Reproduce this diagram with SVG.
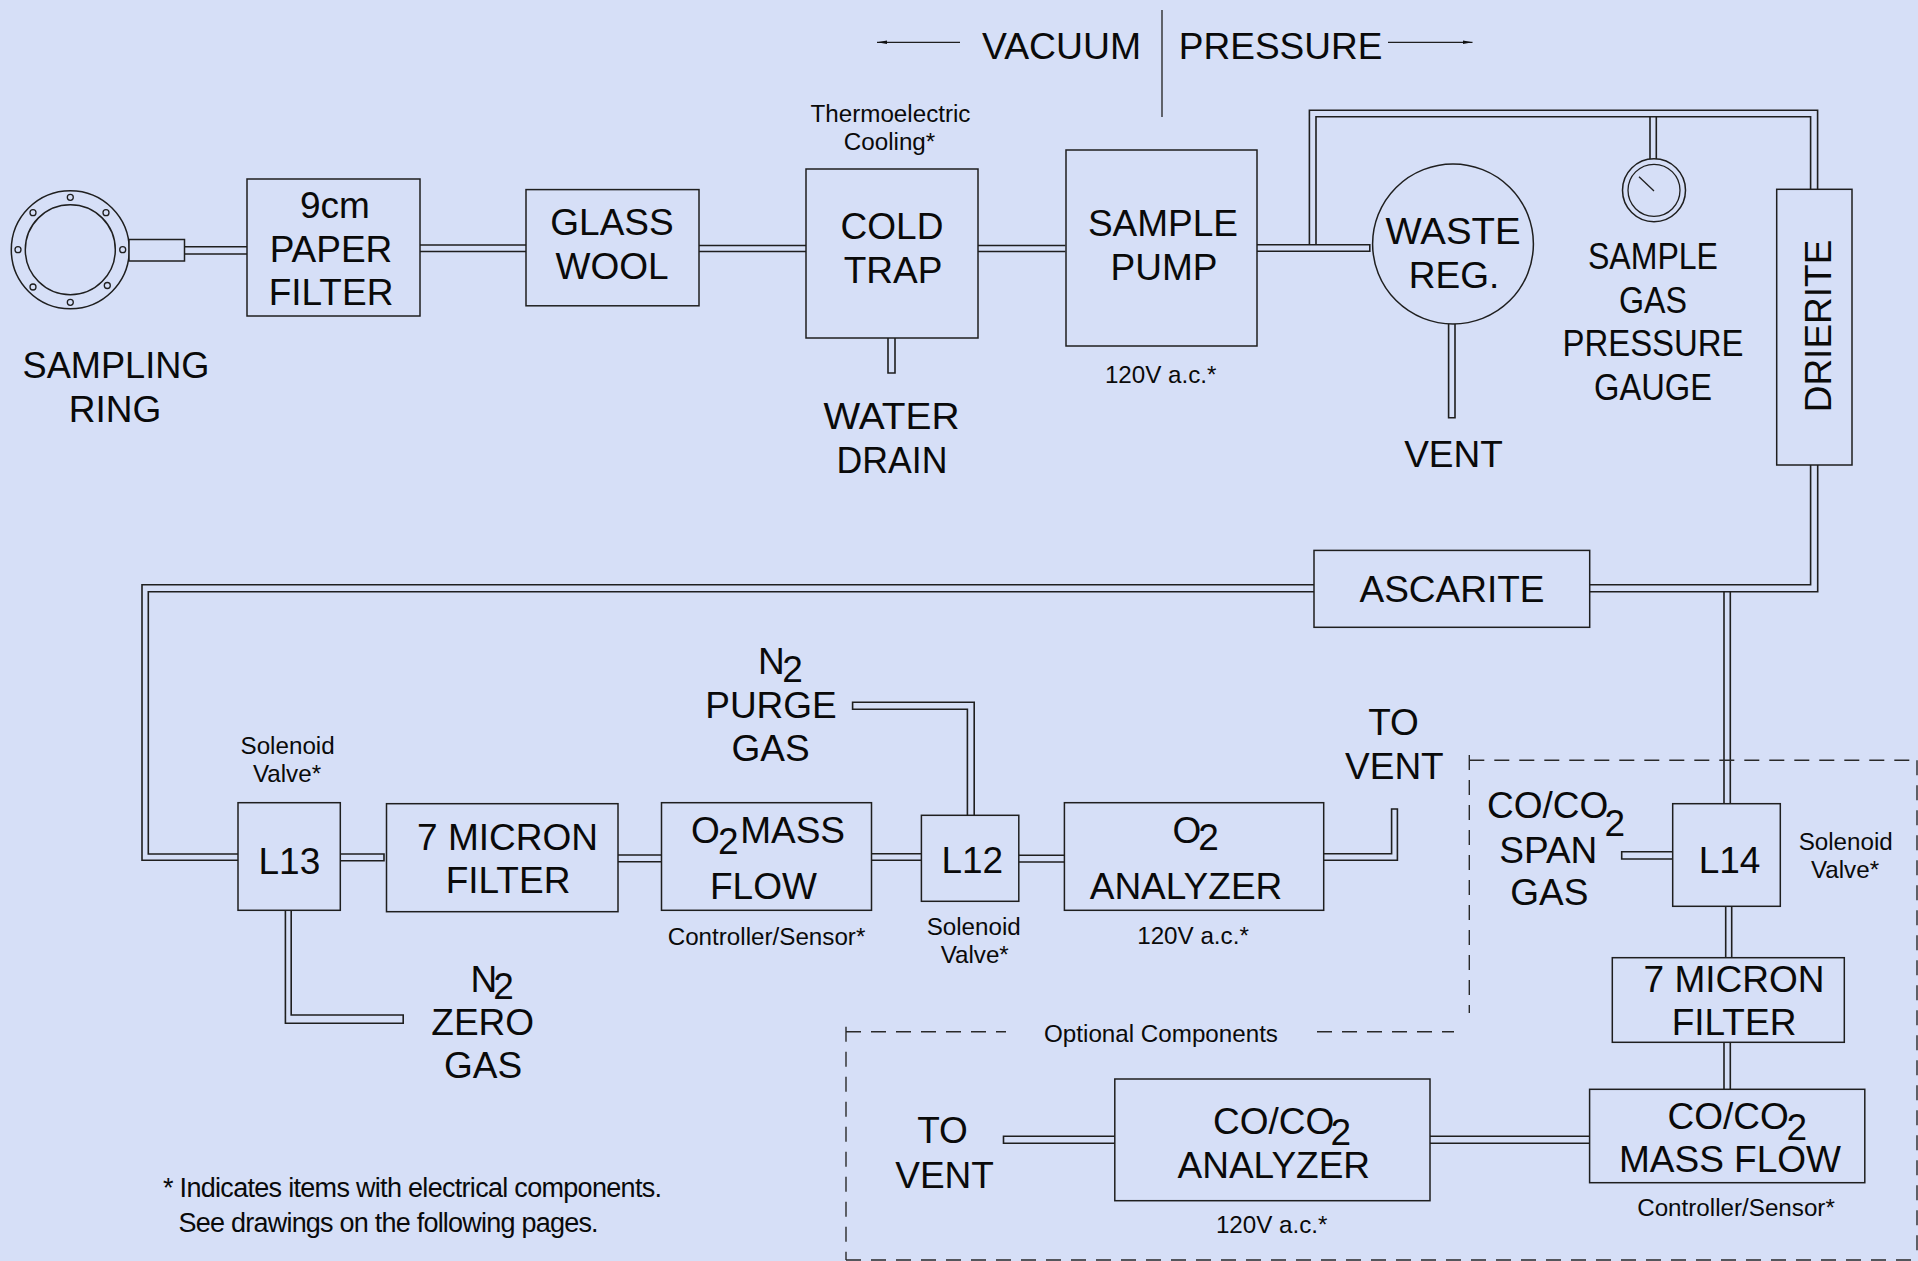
<svg xmlns="http://www.w3.org/2000/svg" width="1918" height="1261" viewBox="0 0 1918 1261">
<style>
text{font-family:"Liberation Sans",Arial,sans-serif;fill:#0a0a0a}
.l{font-size:37px;text-anchor:middle}
.ls{font-size:37px}
.s{font-size:24.2px;text-anchor:middle}
.n{font-size:27px}
.b{fill:#d6dff7;stroke:#1f1f1f;stroke-width:1.5}
.p{fill:none;stroke:#1f1f1f;stroke-width:1.6}
.t{fill:none;stroke:#1f1f1f;stroke-width:1.3}
.d{fill:none;stroke:#2a2a2a;stroke-width:1.4;stroke-dasharray:15 10}
</style>
<defs><marker id="ah" markerWidth="11" markerHeight="6" refX="10" refY="2.5" orient="auto" markerUnits="userSpaceOnUse"><path d="M0 0.7L10 2.5L0 4.3z" fill="#111"/></marker></defs>
<rect width="1918" height="1261" fill="#d6dff7"/>
<g id="connectors">
<path class="p" d="M185 246.7H247M185 254H247"/>
<path class="p" d="M420 245H526M420 251.5H526"/>
<path class="p" d="M699 245.5H806M699 251.5H806"/>
<path class="p" d="M978 245.5H1065.4M978 251.5H1065.4"/>
<path class="p" d="M1256.7 244.7H1369.8V251.3H1256.7"/>
<path class="p" d="M1309.4 244.7V110.3H1817.6V189.3M1316 244.7V116.7H1810.6V189.3"/>
<path class="p" d="M1650 116.7V159M1656.3 116.7V159"/>
<path class="p" d="M888 338V373H895V338"/>
<path class="p" d="M1448.6 324V417.7H1455V324"/>
<path class="p" d="M1810.6 465V584.7H1589.7M1817.7 465V591.7H1589.7"/>
<path class="p" d="M1724 591.7V803.7M1730.3 591.7V803.7"/>
<path class="p" d="M1314 584.7H142V860.3H238M1314 591.7H148.3V854H238"/>
<path class="p" d="M340.3 854H384V860.7H340.3"/>
<path class="p" d="M618 855H661.5M618 861.7H661.5"/>
<path class="p" d="M285.4 910.3V1023.3H403.2V1015H291.2V910.3"/>
<path class="p" d="M871.5 853.7H921.4M871.5 860.3H921.4"/>
<path class="p" d="M1018.8 855.3H1064.4M1018.8 862H1064.4"/>
<path class="p" d="M974.2 815.3V702.3H852.6V709.3H967.4V815.3"/>
<path class="p" d="M1323.7 853.7H1391.6V809H1397.4V860.3H1323.7"/>
<path class="p" d="M1672.7 851.7H1621.7V859H1672.7"/>
<path class="p" d="M1725.7 906.3V957.7M1731.7 906.3V957.7"/>
<path class="p" d="M1724 1042.3V1089.3M1730.3 1042.3V1089.3"/>
<path class="p" d="M1114.8 1136.3H1003.5V1143.3H1114.8"/>
<path class="p" d="M1430 1136.3H1589.6M1430 1143.3H1589.6"/>
<path class="t" d="M1162 10V117"/>
<path class="t" d="M960 42.3H877" marker-end="url(#ah)"/>
<path class="t" d="M1388 42.3H1472.5" marker-end="url(#ah)"/>
<path class="d" d="M1469.3 755V1013"/>
<path class="d" d="M1469.3 760.3H1917.3"/>
<path class="d" d="M1917 760.3V1260"/>
<path class="d" d="M846 1026.7V1260"/>
<path class="d" d="M846 1260H1917"/>
<path class="d" d="M846 1031.7H1006"/>
<path class="d" d="M1317 1031.7H1454"/>
</g>
<g id="sampling-ring">
<circle class="b" cx="70.3" cy="249.7" r="59"/><circle class="b" cx="70.3" cy="249.7" r="45"/>
<circle class="t" cx="70.3" cy="197.3" r="3"/><circle class="t" cx="70.3" cy="302.3" r="3"/><circle class="t" cx="18" cy="249.7" r="3"/><circle class="t" cx="122.7" cy="249.7" r="3"/><circle class="t" cx="33" cy="212.7" r="3"/><circle class="t" cx="106" cy="212.7" r="3"/><circle class="t" cx="33" cy="287" r="3"/><circle class="t" cx="107.3" cy="285.5" r="3"/>
<rect class="b" x="129" y="239.5" width="55.5" height="21.5"/>
<text class="l" x="116" y="378" textLength="187" lengthAdjust="spacingAndGlyphs">SAMPLING</text><text class="l" x="115" y="421.7">RING</text>
</g>
<g id="paper-filter"><rect class="b" x="247" y="179" width="173" height="137"/><text class="l" x="335" y="217.7">9cm</text><text class="l" x="331" y="261.7">PAPER</text><text class="l" x="331" y="305">FILTER</text></g>
<g id="glass-wool"><rect class="b" x="526" y="189.6" width="173" height="116.2"/><text class="l" x="612" y="235.3">GLASS</text><text class="l" x="612" y="278.7">WOOL</text></g>
<g id="cold-trap"><rect class="b" x="806" y="169" width="172" height="169"/><text class="s" x="890.5" y="122">Thermoelectric</text><text class="s" x="889.5" y="149.5">Cooling*</text><text class="l" x="892" y="238.7">COLD</text><text class="l" x="893" y="282.7">TRAP</text><text class="l" x="891.5" y="429.3" textLength="136" lengthAdjust="spacingAndGlyphs">WATER</text><text class="l" x="892" y="473.3" textLength="111" lengthAdjust="spacingAndGlyphs">DRAIN</text></g>
<g id="sample-pump"><rect class="b" x="1066" y="150" width="191" height="196"/><text class="l" x="1163" y="236.3">SAMPLE</text><text class="l" x="1164" y="279.7">PUMP</text><text class="s" x="1160.7" y="382.7">120V a.c.*</text></g>
<g id="waste-reg"><ellipse class="b" cx="1453" cy="244" rx="80.4" ry="80"/><text class="l" x="1453" y="243.7" textLength="135" lengthAdjust="spacingAndGlyphs">WASTE</text><text class="l" x="1454" y="287.7">REG.</text><text class="l" x="1453.5" y="466.7">VENT</text></g>
<g id="pressure-gauge"><circle class="b" cx="1654" cy="190.3" r="31.5"/><circle class="t" cx="1654" cy="190.3" r="26"/><path class="t" d="M1639 176.7L1654 191"/><text class="l" x="1653" y="269.3" textLength="130" lengthAdjust="spacingAndGlyphs">SAMPLE</text><text class="l" x="1653" y="313.3" textLength="68" lengthAdjust="spacingAndGlyphs">GAS</text><text class="l" x="1653" y="356.3" textLength="181" lengthAdjust="spacingAndGlyphs">PRESSURE</text><text class="l" x="1653" y="400.3" textLength="118" lengthAdjust="spacingAndGlyphs">GAUGE</text></g>
<g id="drierite"><rect class="b" x="1776.7" y="189.3" width="75.3" height="275.7"/><text class="l" transform="translate(1830.5 326) rotate(-90)">DRIERITE</text></g>
<g id="ascarite"><rect class="b" x="1314" y="550.4" width="275.7" height="76.9"/><text class="l" x="1452" y="601.7">ASCARITE</text></g>
<g id="l13"><rect class="b" x="238" y="802.7" width="102.3" height="107.6"/><text class="s" x="287.6" y="754">Solenoid</text><text class="s" x="287" y="782">Valve*</text><text class="l" x="289.4" y="873.7">L13</text></g>
<g id="micron-filter-1"><rect class="b" x="386.5" y="803.7" width="231.5" height="108"/><text class="l" x="507.5" y="849.7">7 MICRON</text><text class="l" x="508" y="892.7">FILTER</text></g>
<g id="o2-mass-flow"><rect class="b" x="661.5" y="802.7" width="210" height="107.6"/><text class="ls" x="691" y="843.3">O</text><text class="ls" x="718" y="854.3">2</text><text class="ls" x="740.2" y="843.3">MASS</text><text class="l" x="763.4" y="899.3">FLOW</text><text class="s" x="766.5" y="944.8">Controller/Sensor*</text></g>
<g id="n2-zero"><text class="ls" x="470.5" y="991.7">N</text><text class="ls" x="493.3" y="999.3">2</text><text class="l" x="482.7" y="1035.3">ZERO</text><text class="l" x="483" y="1078.3">GAS</text></g>
<g id="n2-purge"><text class="ls" x="758" y="674.3">N</text><text class="ls" x="782.3" y="681.7">2</text><text class="l" x="771" y="717.7">PURGE</text><text class="l" x="770.6" y="761">GAS</text></g>
<g id="l12"><rect class="b" x="921.4" y="815.3" width="97.4" height="86"/><text class="l" x="972.3" y="873.3">L12</text><text class="s" x="973.7" y="935">Solenoid</text><text class="s" x="974.7" y="963.3">Valve*</text></g>
<g id="o2-analyzer"><rect class="b" x="1064.4" y="802.7" width="259.3" height="107.6"/><text class="ls" x="1172.5" y="843.3">O</text><text class="ls" x="1198.2" y="850.3">2</text><text class="l" x="1186" y="899.3">ANALYZER</text><text class="s" x="1193" y="943.8">120V a.c.*</text></g>
<g id="to-vent-1"><text class="l" x="1393.5" y="735">TO</text><text class="l" x="1394.4" y="779.3">VENT</text></g>
<g id="l14"><rect class="b" x="1672.7" y="803.7" width="107.6" height="102.6"/><text class="l" x="1729.5" y="872.7">L14</text><text class="s" x="1845.7" y="849.8">Solenoid</text><text class="s" x="1845" y="877.8">Valve*</text></g>
<g id="span-gas"><text class="ls" x="1487" y="818.3">CO/CO</text><text class="ls" x="1604.5" y="836">2</text><text class="l" x="1548.3" y="862.7">SPAN</text><text class="l" x="1549.3" y="905.3">GAS</text></g>
<g id="micron-filter-2"><rect class="b" x="1612.3" y="957.7" width="232" height="84.6"/><text class="l" x="1734" y="991.7">7 MICRON</text><text class="l" x="1734" y="1035">FILTER</text></g>
<g id="coco2-mass-flow"><rect class="b" x="1589.6" y="1089.3" width="275.2" height="93.4"/><text class="ls" x="1667.5" y="1128.7">CO/CO</text><text class="ls" x="1786.5" y="1140.3">2</text><text class="l" x="1730" y="1171.7">MASS FLOW</text><text class="s" x="1736" y="1215.7">Controller/Sensor*</text></g>
<g id="coco2-analyzer"><rect class="b" x="1114.8" y="1079" width="315.2" height="121.7"/><text class="ls" x="1213" y="1133.7">CO/CO</text><text class="ls" x="1330.5" y="1145">2</text><text class="l" x="1273.8" y="1177.7">ANALYZER</text><text class="s" x="1271.7" y="1232.7">120V a.c.*</text></g>
<g id="to-vent-2"><text class="l" x="942.5" y="1143.3">TO</text><text class="l" x="944.6" y="1188.3">VENT</text></g>
<g id="labels"><text class="l" x="1061.5" y="58.7" textLength="159" lengthAdjust="spacingAndGlyphs">VACUUM</text><text class="l" x="1280.6" y="58.7">PRESSURE</text><text class="s" x="1161" y="1041.7">Optional Components</text><text class="n" x="163" y="1197" textLength="499">* Indicates items with electrical components.</text><text class="n" x="178.6" y="1232" textLength="420">See drawings on the following pages.</text></g>
</svg>
